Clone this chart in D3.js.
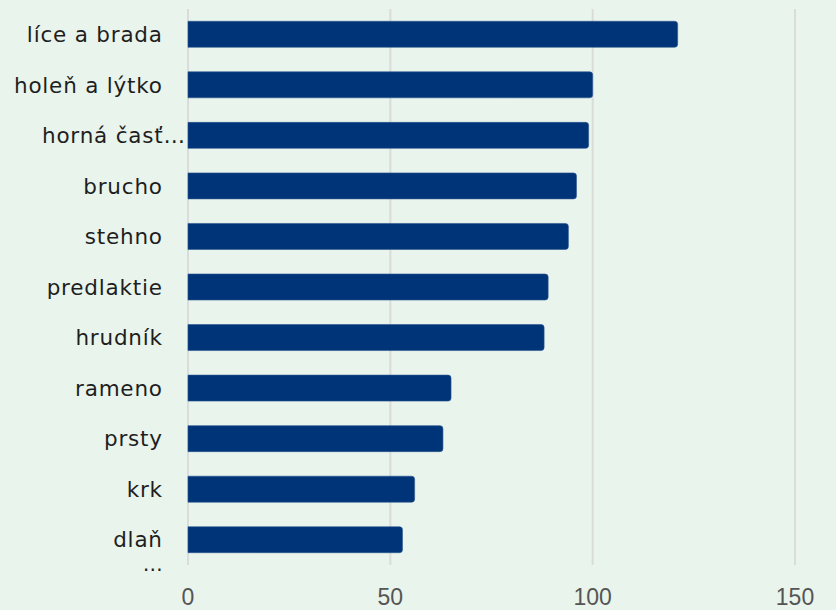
<!DOCTYPE html>
<html><head><meta charset="utf-8">
<script src="https://cdn.jsdelivr.net/npm/d3@7"></script>
<style>
html,body{margin:0;padding:0;background:#e9f4ec;}
svg{display:block;}
</style></head>
<body>
<svg id="chart" width="836" height="610"></svg>
<script>
const categories = ["líce a brada","holeň a lýtko","horná časť…","brucho","stehno","predlaktie","hrudník","rameno","prsty","krk","dlaň"];
const values = [121,100,99,96,94,89,88,65,63,56,53];
const tickValues = [0,50,100,150];
const moreLabel = "…";

const svg = d3.select("#chart");
const W = 836, H = 610;
svg.append("rect").attr("width",W).attr("height",H).attr("fill","#e9f4ec");

const x = d3.scaleLinear().domain([0,150]).range([188,795]);
const y = d3.scaleBand().domain(categories).range([9,565]).paddingInner(0.486).paddingOuter(0.243);

// grid
svg.append("g").selectAll("line").data(tickValues).join("line")
  .attr("x1",d=>x(d)).attr("x2",d=>x(d)).attr("y1",9).attr("y2",565)
  .attr("stroke","#d9dcda").attr("stroke-width",2);

// bars with rounded right end
const r = 3;
svg.append("g").selectAll("path").data(values).join("path")
  .attr("d",(d,i)=>{
    const x0 = x(0), x1 = x(d), y0 = y(categories[i]), h = y.bandwidth();
    return `M${x0},${y0}H${x1-r}Q${x1},${y0} ${x1},${y0+r}V${y0+h-r}Q${x1},${y0+h} ${x1-r},${y0+h}H${x0}Z`;
  })
  .attr("fill","#003478").attr("stroke","#2a5590").attr("stroke-width",0.6);

const labelFont = "'DejaVu Sans', sans-serif";
// category labels
svg.append("g").selectAll("text").data(categories).join("text")
  .attr("x",(d,i)=> i===2 ? 185.8 : 162.8)
  .attr("y",d=>y(d)+y.bandwidth()/2)
  .attr("dy","0.36em")
  .attr("text-anchor","end")
  .attr("font-family",labelFont)
  .attr("font-size",21.5)
  .attr("letter-spacing",0.8)
  .attr("fill","#1e1e1e")
  .text(d=>d);

svg.append("text").attr("x",163.5).attr("y",571).attr("text-anchor","end")
  .attr("font-family",labelFont).attr("font-size",20).attr("letter-spacing",0.8).attr("fill","#1e1e1e").text(moreLabel);

// x axis tick labels
svg.append("g").selectAll("text").data(tickValues).join("text")
  .attr("x",d=>x(d)).attr("y",605).attr("text-anchor","middle")
  .attr("font-family","'Liberation Sans', sans-serif").attr("font-size",23).attr("fill","#555")
  .text(d=>d);
</script>
</body></html>
